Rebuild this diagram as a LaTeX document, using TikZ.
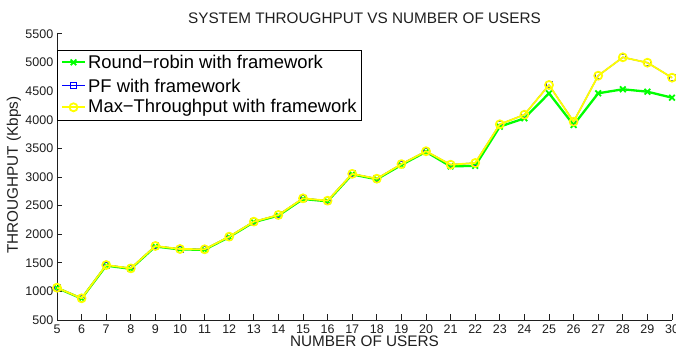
\documentclass[tikz,border=0pt]{standalone}
\usepackage{fontspec}
\setmainfont{Liberation Sans}
\usetikzlibrary{plotmarks}
\definecolor{rrgreen}{RGB}{0,255,0}
\definecolor{pfblue}{RGB}{0,0,255}
\definecolor{mtyellow}{RGB}{255,255,0}
\definecolor{axisink}{gray}{0.12}

\begin{document}
\begin{tikzpicture}[x=1pt,y=1pt,
  ticklabel/.style={font=\fontsize{12.5}{12.5}\selectfont, inner sep=0pt, text=axisink},
  axlabel/.style={font=\fontsize{15.3}{15.3}\selectfont, inner sep=0pt, text=axisink},
  legtext/.style={font=\fontsize{18.4}{18.4}\selectfont, inner sep=0pt, anchor=west},
  axisline/.style={draw=axisink, line width=1pt},
  rrline/.style={draw=rrgreen, line width=2.3pt, line join=round},
  rrmark/.style={mark=x, mark size=4pt, mark options={draw=rrgreen, line width=1.8pt}},
  pfline/.style={draw=pfblue, line width=1.2pt, line join=round},
  pfmark/.style={mark=square, mark size=3pt, mark options={draw=pfblue, line width=1pt}},
  mtline/.style={draw=mtyellow, line width=1.8pt, line join=round},
  mtmark/.style={mark=o, mark size=4pt, mark options={draw=mtyellow, line width=1.8pt}},
  datascale/.style={x=24.6pt, y=0.0572pt, shift={(-66pt,2.4pt)}}
]
\useasboundingbox[fill=white] (0,0) rectangle (676,351);

% axes with inward ticks
\draw[axisline] (57,318) -- (57,31) -- (672,31);
\foreach \u in {5,...,30}{
  \draw[axisline] ({57+(\u-5)*24.6},31) -- ++(0,6);
  \node[ticklabel] (xt\u) at ({57+(\u-5)*24.6},21.5) {\u};
}
\foreach \k in {0,...,10}{
  \pgfmathtruncatemacro{\val}{500+\k*500}
  \draw[axisline] (57,{31+\k*28.6}) -- ++(5,0);
  \node[ticklabel, anchor=east] (yt\k) at (53.5,{31+\k*28.6}) {\val};
}

% titles
\node[axlabel] (title) at (364.5,333) {SYSTEM THROUGHPUT VS NUMBER OF USERS};
\node[axlabel] (xlab) at (364.5,9.5) {NUMBER OF USERS};
\node[axlabel, rotate=90] (ylab) at (14,176) {THROUGHPUT (Kbps)};

% data series
\begin{scope}[datascale]
\draw[rrline] plot[rrmark] coordinates {(5,1060) (6,875) (7,1450) (8,1395) (9,1785) (10,1733) (11,1728) (12,1950) (13,2210) (14,2325) (15,2615) (16,2575) (17,3045) (18,2960) (19,3210) (20,3440) (21,3185) (22,3195) (23,3880) (24,4026) (25,4463) (26,3909) (27,4463) (28,4533) (29,4491) (30,4386)};
\draw[pfline] plot[pfmark] coordinates {(5,1065) (6,879) (7,1461) (8,1403) (9,1794) (10,1741) (11,1736) (12,1957) (13,2219) (14,2336) (15,2627) (16,2586) (17,3055) (18,2970) (19,3225) (20,3450) (21,3215) (22,3245) (23,3921) (24,4089) (25,4608) (26,3967) (27,4771) (28,5092) (29,4998) (30,4736)};
\draw[mtline] plot[mtmark] coordinates {(5,1065) (6,879) (7,1461) (8,1403) (9,1794) (10,1741) (11,1736) (12,1957) (13,2219) (14,2336) (15,2627) (16,2586) (17,3055) (18,2970) (19,3225) (20,3450) (21,3215) (22,3245) (23,3921) (24,4089) (25,4608) (26,3967) (27,4771) (28,5092) (29,4998) (30,4736)};
\end{scope}

% legend
\draw[fill=white, draw=black, line width=0.9pt] (57,231) rectangle (361,300.5);
\draw[rrline] (62,288.7) -- (85,288.7);
\draw plot[rrmark] coordinates {(73.5,288.7)};
\node[legtext] (leg1) at (88,288.7) {Round−robin with framework};
\draw[pfline] (62,265.3) -- (85,265.3);
\draw plot[pfmark] coordinates {(73.5,265.3)};
\node[legtext] (leg2) at (88,265.3) {PF with framework};
\draw[mtline] (62,243.7) -- (85,243.7);
\draw plot[mtmark] coordinates {(73.5,243.7)};
\node[legtext] (leg3) at (88,243.7) {Max−Throughput with framework};
\end{tikzpicture}
\end{document}
